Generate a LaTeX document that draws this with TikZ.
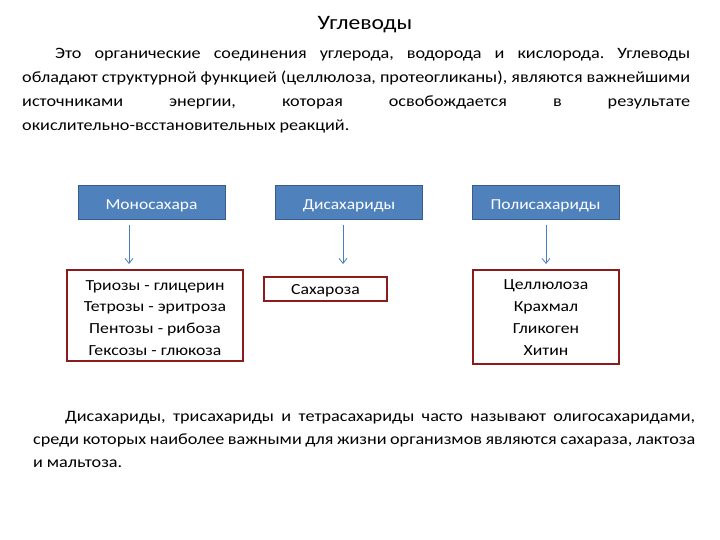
\documentclass[tikz,border=0pt]{standalone}
\usepackage{fontspec}
\setmainfont{Carlito}[FakeStretch=1.15]
\usetikzlibrary{arrows.meta}
\definecolor{hdrblue}{HTML}{4F81BD}
\definecolor{hdredge}{HTML}{385D8A}
\definecolor{boxred}{HTML}{8C1C1C}
\definecolor{arrblue}{HTML}{4A7EBB}
\newcommand{\paraspace}{\frenchspacing\spaceskip=0.24em plus 1.5em minus 0.13em\relax}
\newcommand{\lowertext}[2]{\raisebox{-#1}[\height][\depth]{#2}}
\begin{document}
\begin{tikzpicture}[x=1pt,y=-1pt,
  hdr/.style={draw=hdredge, line width=1pt, fill=hdrblue, text=white,
    font=\fontsize{15.2}{18}\selectfont, minimum width=147pt, minimum height=34pt, inner sep=0pt},
  itembox/.style={draw=boxred, line width=1.8pt, align=center,
    font=\fontsize{15.4}{21.5}\selectfont, inner sep=0pt},
  link/.style={draw=arrblue, line width=0.8pt, -{Straight Barb[length=5pt,width=8pt]}},
  para/.style={anchor=north west, align=justify, inner sep=0pt}]
\useasboundingbox[fill=white] (0,0) rectangle (720,540);
\node[font=\fontsize{20.5}{24}\selectfont] (title) at (365,25) {Углеводы};
\node[para, text width=668pt, font=\fontsize{15.8}{24}\selectfont] (p1) at (22,48) {\paraspace\hspace*{33pt}Это органические соединения углерода, водорода и кислорода. Углеводы\linebreak обладают структурной функцией (целлюлоза, протеогликаны), являются важнейшими\linebreak источниками энергии, которая освобождается в результате\linebreak окислительно-всстановительных реакций.};
\node[hdr] (m1) at (151.5,202.5) {\lowertext{3pt}{Моносахара}};
\node[hdr] (m2) at (349,202.5) {\lowertext{3pt}{Дисахариды}};
\node[hdr] (m3) at (545.5,202.5) {\lowertext{3pt}{Полисахариды}};
\node[itembox, minimum width=176pt, minimum height=91pt] (r1) at (155,315.5) {\lowertext{3pt}{\begin{tabular}{@{}c@{}}Триозы - глицерин\\[0.3pt]Тетрозы - эритроза\\[0.3pt]Пентозы - рибоза\\[0.3pt]Гексозы - глюкоза\end{tabular}}};
\node[itembox, minimum width=123pt, minimum height=24pt] (r2) at (325.5,289) {\lowertext{2pt}{Сахароза}};
\node[itembox, minimum width=146pt, minimum height=94pt] (r3) at (546,317) {\lowertext{1pt}{\begin{tabular}{@{}c@{}}Целлюлоза\\[0.3pt]Крахмал\\[0.3pt]Гликоген\\[0.3pt]Хитин\end{tabular}}};
\coordinate (t1) at (129,225);
\coordinate (h1) at (129,264);
\coordinate (t2) at (343,225);
\coordinate (h2) at (343,264);
\coordinate (t3) at (546,225);
\coordinate (h3) at (546,264);
\draw[link] (t1) -- (h1);
\draw[link] (t2) -- (h2);
\draw[link] (t3) -- (h3);
\node[para, text width=662pt, font=\fontsize{15.8}{23}\selectfont] (p2) at (33,411) {\paraspace\hspace*{32pt}Дисахариды, трисахариды и тетрасахариды часто называют олигосахаридами,\linebreak среди которых наиболее важными для жизни организмов являются сахараза, лактоза\linebreak и мальтоза.};
\end{tikzpicture}
\end{document}
